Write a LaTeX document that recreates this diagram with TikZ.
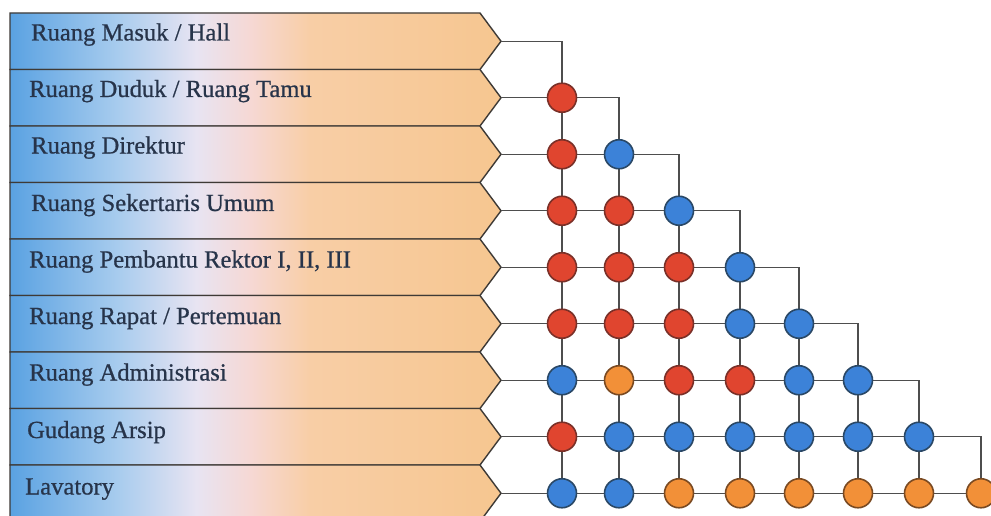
\documentclass[tikz,border=0pt]{standalone}
\usepackage{fontspec}
\setmainfont{Liberation Serif}
\newfontfamily\lblfont{Liberation Serif}[FakeBold=0.7]
\definecolor{bA}{HTML}{5AA2E2}
\definecolor{bB}{HTML}{A8CCEE}
\definecolor{bC}{HTML}{E8E4F2}
\definecolor{bD}{HTML}{F6D8D4}
\definecolor{bE}{HTML}{F8CEA6}
\definecolor{bF}{HTML}{F6C690}
\definecolor{bandline}{HTML}{3E3A36}
\definecolor{connline}{HTML}{4E4E4E}
\definecolor{txt}{HTML}{27344A}
\definecolor{redF}{HTML}{E0452F}
\definecolor{redD}{HTML}{7A3028}
\definecolor{bluF}{HTML}{3C82D8}
\definecolor{bluD}{HTML}{2A4866}
\definecolor{oraF}{HTML}{F29038}
\definecolor{oraD}{HTML}{7A4A22}
\pgfdeclarehorizontalshading{bandshade}{100bp}{color(0bp)=(bA); color(25bp)=(bA); color(36bp)=(bB); color(44bp)=(bC); color(49.5bp)=(bD); color(55.5bp)=(bE); color(75bp)=(bF); color(100bp)=(bF)}
\begin{document}
\begin{tikzpicture}[x=1pt,y=-1pt,
  band/.style={shading=bandshade, draw=bandline, line width=1.4pt},
  lbl/.style={anchor=base west, inner sep=0pt, text=txt, font=\lblfont\fontsize{24.6}{27}\selectfont},
  conn/.style={draw=connline, line width=1.4pt},
  dot/.style={circle, minimum size=29pt, inner sep=0pt, line width=1.6pt},
  dotR/.style={dot, fill=redF, draw=redD},
  dotB/.style={dot, fill=bluF, draw=bluD},
  dotO/.style={dot, fill=oraF, draw=oraD}]
\useasboundingbox (0,0) rectangle (991,516);
\clip (0,0) rectangle (991,516);
\fill[white] (0,0) rectangle (991,516);
\def\colx{{562,619,679,740,799,858,919,981}}
% bands
\foreach \r in {0,...,8} {
  \pgfmathsetmacro\tp{13+56.5*\r}
  \pgfmathsetmacro\cy{\tp+28.25}
  \pgfmathsetmacro\bt{\tp+56.5}
  \shade[band] (10,\tp) -- (480,\tp) -- (501,\cy) -- (480,\bt) -- (10,\bt) -- cycle;
  \coordinate (tip\r) at (501,\cy);
}
% grid points
\foreach \r in {0,...,8} {
  \foreach \c in {0,...,7} {
    \pgfmathsetmacro\gx{\colx[\c]}
    \pgfmathsetmacro\gy{41.25+56.5*\r}
    \coordinate (g-\r-\c) at (\gx,\gy);
  }
}
% labels
\node[lbl] (l0) at (31,40.5) {Ruang Masuk / Hall};
\node[lbl] (l1) at (29,97) {Ruang Duduk / Ruang Tamu};
\node[lbl] (l2) at (31,153.5) {Ruang Direktur};
\node[lbl] (l3) at (31,211) {Ruang Sekertaris Umum};
\node[lbl] (l4) at (29,267.5) {Ruang Pembantu Rektor I, II, III};
\node[lbl] (l5) at (29,324) {Ruang Rapat / Pertemuan};
\node[lbl] (l6) at (29,380.5) {Ruang Administrasi};
\node[lbl] (l7) at (27,438) {Gudang Arsip};
\node[lbl] (l8) at (25,494.5) {Lavatory};
% connectors
\foreach \r in {0,...,7} {
  \draw[conn] (tip\r) -- (g-\r-\r) -- (g-8-\r);
}
\draw[conn] (tip8) -- (g-8-7);
% circles
\foreach \r/\c/\k in {1/0/R,
  2/0/R, 2/1/B,
  3/0/R, 3/1/R, 3/2/B,
  4/0/R, 4/1/R, 4/2/R, 4/3/B,
  5/0/R, 5/1/R, 5/2/R, 5/3/B, 5/4/B,
  6/0/B, 6/1/O, 6/2/R, 6/3/R, 6/4/B, 6/5/B,
  7/0/R, 7/1/B, 7/2/B, 7/3/B, 7/4/B, 7/5/B, 7/6/B,
  8/0/B, 8/1/B, 8/2/O, 8/3/O, 8/4/O, 8/5/O, 8/6/O, 8/7/O} {
  \node[dot\k] (d-\r-\c) at (g-\r-\c) {};
}
\end{tikzpicture}
\end{document}
